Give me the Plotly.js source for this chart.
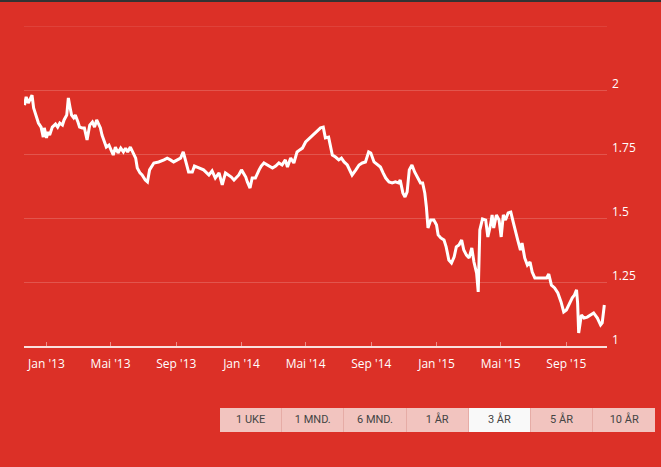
<!DOCTYPE html>
<html>
<head>
<meta charset="utf-8">
<script src="https://cdn.plot.ly/plotly-3.0.1.min.js"></script>
<style>
  html, body { margin:0; padding:0; background:#dc3027; }
  #wrap { position:relative; width:661px; height:467px; overflow:hidden; background:#dc3027; }
  #topbar { position:absolute; left:0; top:0; width:661px; height:2px; background:#333; z-index:5; }
  #chart { position:absolute; left:0; top:0; width:661px; height:467px; }
  #btns { position:absolute; left:220px; top:408px; height:24px; display:flex; z-index:4; }
  .b { width:62.2px; height:24px; line-height:24px; text-align:center; background:#f2c4bf;
       color:#444; font-family:Roboto, sans-serif; font-size:11px; box-sizing:border-box;
       border-right:1px solid #e6aca6; }
  .b:last-child { border-right:none; }
  .b.sel { background:#f9f9f9; }
</style>
</head>
<body>
<div id="wrap">
  <div id="topbar"></div>
  <div id="chart"></div>
  <div id="btns"></div>
</div>
<script>
const dates = [
'2012-11-21','2012-11-24','2012-11-28','2012-12-02','2012-12-05','2012-12-08','2012-12-13','2012-12-17','2012-12-22','2012-12-26','2012-12-28',
'2013-01-01','2013-01-04','2013-01-07','2013-01-12','2013-01-18','2013-01-22','2013-01-26','2013-01-31','2013-02-03','2013-02-08','2013-02-11','2013-02-14','2013-02-17','2013-02-21','2013-02-24',
'2013-03-01','2013-03-04','2013-03-09','2013-03-13','2013-03-18','2013-03-23','2013-03-28','2013-04-01','2013-04-05','2013-04-09','2013-04-12','2013-04-15','2013-04-20','2013-04-23','2013-04-28',
'2013-05-02','2013-05-06','2013-05-10','2013-05-15','2013-05-20','2013-05-25','2013-05-29','2013-06-02','2013-06-07','2013-06-12','2013-06-17','2013-06-20','2013-06-25','2013-06-29',
'2013-07-05','2013-07-09','2013-07-13','2013-07-21','2013-07-30','2013-08-09','2013-08-15','2013-08-21','2013-08-27','2013-09-03','2013-09-09','2013-09-14','2013-09-18','2013-09-24',
'2013-10-01','2013-10-05','2013-10-10','2013-10-16','2013-10-22','2013-10-26','2013-11-01','2013-11-07','2013-11-13','2013-11-20','2013-11-26','2013-12-02','2013-12-08','2013-12-13','2013-12-18','2013-12-23','2013-12-27',
'2014-01-01','2014-01-05','2014-01-09','2014-01-12','2014-01-17','2014-01-21','2014-01-27','2014-02-03','2014-02-07','2014-02-12','2014-02-18','2014-02-23','2014-02-28',
'2014-03-06','2014-03-12','2014-03-18','2014-03-24','2014-03-28','2014-04-03','2014-04-09','2014-04-15','2014-04-20','2014-04-25','2014-05-01','2014-05-07','2014-05-10','2014-05-16','2014-05-20','2014-05-24','2014-05-29',
'2014-06-03','2014-06-07','2014-06-13','2014-06-20','2014-06-26','2014-07-02','2014-07-07','2014-07-12','2014-07-18','2014-07-23','2014-07-27','2014-08-03','2014-08-09','2014-08-15','2014-08-21','2014-08-27','2014-08-31',
'2014-09-06','2014-09-12','2014-09-18','2014-09-23','2014-09-28','2014-10-04','2014-10-10','2014-10-16','2014-10-22','2014-10-25','2014-10-30','2014-11-03','2014-11-07','2014-11-11','2014-11-16','2014-11-21','2014-11-27',
'2014-12-02','2014-12-06','2014-12-10','2014-12-13','2014-12-16','2014-12-21','2014-12-27',
'2015-01-01','2015-01-04','2015-01-09','2015-01-15','2015-01-19','2015-01-24','2015-01-29','2015-02-03','2015-02-07','2015-02-12','2015-02-17','2015-02-21','2015-02-26',
'2015-03-03','2015-03-08','2015-03-12','2015-03-17','2015-03-20','2015-03-23','2015-03-28','2015-04-03','2015-04-07','2015-04-12','2015-04-15','2015-04-18','2015-04-23','2015-04-28',
'2015-05-02','2015-05-06','2015-05-10','2015-05-15','2015-05-20','2015-05-25','2015-05-29','2015-06-02','2015-06-07','2015-06-10','2015-06-15','2015-06-20','2015-06-25','2015-06-29',
'2015-07-04','2015-07-09','2015-07-18','2015-07-26','2015-07-30','2015-08-04','2015-08-10','2015-08-16','2015-08-22','2015-08-27','2015-09-01','2015-09-07','2015-09-12','2015-09-16','2015-09-20','2015-09-22','2015-09-24','2015-09-29',
'2015-10-04','2015-10-10','2015-10-16','2015-10-22','2015-10-29','2015-11-04','2015-11-07','2015-11-11'
];
const values = [
1.941,1.973,1.949,1.969,1.980,1.930,1.891,1.871,1.855,1.816,1.852,
1.813,1.836,1.824,1.855,1.867,1.855,1.871,1.863,1.883,1.902,1.969,1.934,1.902,1.891,1.902,
1.875,1.855,1.852,1.852,1.805,1.863,1.875,1.855,1.883,1.863,1.852,1.824,1.793,1.777,1.785,
1.766,1.746,1.777,1.754,1.773,1.758,1.773,1.758,1.777,1.758,1.734,1.695,1.676,1.668,
1.648,1.641,1.688,1.715,1.719,1.727,1.734,1.727,1.719,1.727,1.734,1.758,1.727,1.680,
1.680,1.703,1.699,1.695,1.688,1.680,1.668,1.684,1.656,1.676,1.629,1.676,1.668,1.660,1.648,1.660,1.668,
1.688,1.672,1.660,1.641,1.617,1.656,1.656,1.688,1.703,1.715,1.707,1.699,1.695,
1.703,1.715,1.707,1.727,1.699,1.734,1.715,1.758,1.766,1.773,1.797,1.809,1.816,1.828,1.832,1.840,1.852,
1.855,1.813,1.816,1.746,1.738,1.727,1.734,1.719,1.707,1.688,1.668,1.688,1.707,1.715,1.719,1.758,1.754,
1.719,1.707,1.699,1.676,1.656,1.641,1.637,1.641,1.637,1.648,1.598,1.582,1.602,1.688,1.707,1.680,1.656,
1.637,1.637,1.598,1.543,1.461,1.492,1.492,
1.473,1.434,1.422,1.414,1.387,1.336,1.324,1.348,1.387,1.395,1.414,1.375,1.355,
1.344,1.383,1.328,1.285,1.211,1.453,1.496,1.492,1.426,1.473,1.512,1.461,1.512,1.492,
1.426,1.512,1.492,1.520,1.523,1.480,1.441,1.414,1.375,1.402,1.344,1.316,1.328,1.289,
1.266,1.266,1.266,1.266,1.281,1.238,1.227,1.207,1.172,1.133,1.141,1.168,1.188,1.199,1.219,1.168,1.051,1.121,
1.109,1.113,1.121,1.129,1.109,1.082,1.090,1.160
];
const xTickVals = ['2013-01-01','2013-05-01','2013-09-01','2014-01-01','2014-05-01','2014-09-01','2015-01-01','2015-05-01','2015-09-01'];
const xTickText = ["Jan '13","Mai '13","Sep '13","Jan '14","Mai '14","Sep '14","Jan '15","Mai '15","Sep '15"];
const yTickVals = [1, 1.25, 1.5, 1.75, 2];
const yTickText = ['1', '1.25', '1.5', '1.75', '2'];
const yTop = 2.25;
const buttons = ['1 UKE', '1 MND.', '6 MND.', '1 ÅR', '3 ÅR', '5 ÅR', '10 ÅR'];
const selectedButton = '3 ÅR';

const gridColor = 'rgba(255,255,255,0.18)';
const trace = {
  x: dates, y: values, type: 'scatter', mode: 'lines',
  line: { color: '#ffffff', width: 3 }, hoverinfo: 'skip'
};
const layout = {
  width: 661, height: 467,
  margin: { l: 24, r: 54, t: 26, b: 121 },
  paper_bgcolor: '#dc3027', plot_bgcolor: '#dc3027',
  showlegend: false,
  xaxis: {
    type: 'date', range: ['2012-11-20', '2015-11-16'],
    tickvals: xTickVals, ticktext: xTickText,
    showgrid: false, zeroline: false,
    showline: true, linecolor: 'rgba(255,255,255,0.85)', linewidth: 1.5,
    ticks: 'inside', ticklen: 4, tickcolor: 'rgba(255,255,255,0.45)', tickwidth: 1,
    ticklabelstandoff: 6,
    tickfont: { family: 'Open Sans, sans-serif', size: 12, color: '#ffffff' },
    fixedrange: true
  },
  yaxis: {
    range: [1, yTop], side: 'right',
    tickvals: yTickVals, ticktext: yTickText,
    showgrid: true, gridcolor: gridColor, gridwidth: 1,
    zeroline: false, showline: false, ticks: '',
    ticklabelshift: -6, ticklabelstandoff: 4,
    tickfont: { family: 'Open Sans, sans-serif', size: 12, color: '#ffffff' },
    fixedrange: true
  },
  shapes: [{
    type: 'line', xref: 'paper', yref: 'y', x0: 0, x1: 1, y0: yTop, y1: yTop,
    line: { color: gridColor, width: 1 }, layer: 'below'
  }]
};
Plotly.newPlot('chart', [trace], layout, { staticPlot: true, displayModeBar: false });

const bc = document.getElementById('btns');
buttons.forEach(function (t) {
  const d = document.createElement('div');
  d.className = 'b' + (t === selectedButton ? ' sel' : '');
  d.textContent = t;
  bc.appendChild(d);
});
</script>
</body>
</html>
